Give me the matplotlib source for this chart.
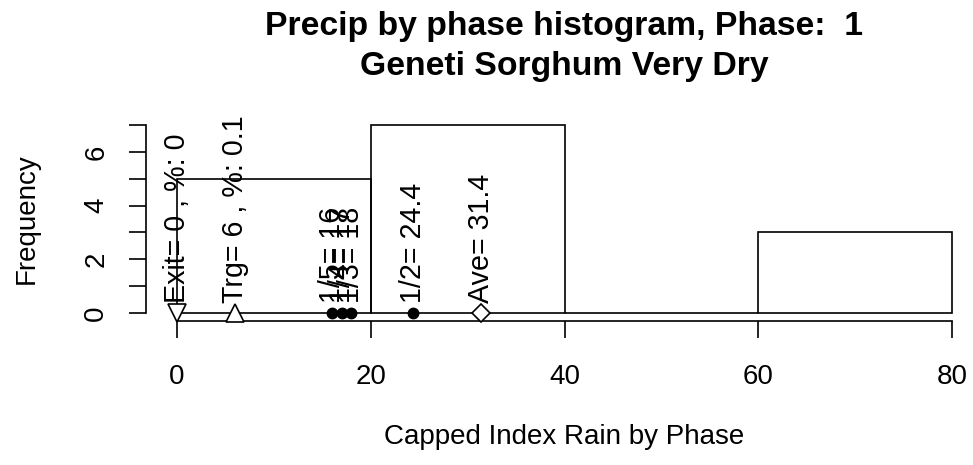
import matplotlib
matplotlib.use("Agg")
import matplotlib.pyplot as plt

plt.rcParams['font.family'] = ['Liberation Sans', 'DejaVu Sans']

# Histogram data
bin_edges = [0, 20, 40, 60, 80]
counts = [5, 7, 0, 3]

# Marker annotations
exit_x, exit_label = 0, "Exit= 0 , %: 0"
trg_x, trg_label = 6, "Trg= 6 , %: 0.1"
quant_x = [16, 17, 18, 24.4]
quant_labels = ["1/5= 16", "1/4= 17", "1/3= 18", "1/2= 24.4"]
ave_x, ave_label = 31.4, "Ave= 31.4"

yticks = [0, 1, 2, 3, 4, 5, 6, 7]
ytick_labels = ["0", "", "2", "", "4", "", "6", ""]
xticks = [0, 20, 40, 60, 80]

title1 = "Precip by phase histogram, Phase:  1"
title2 = "Geneti Sorghum Very Dry"
xlabel = "Capped Index Rain by Phase"
ylabel = "Frequency"

W, H = 973, 465
fig = plt.figure(figsize=(W / 100, H / 100), dpi=100)
ax = fig.add_axes([146 / W, (H - 320.5) / H, 837 / W, 203 / H])
ax.set_xlim(-3.2, 83.2)
ax.set_ylim(-0.28, 7.28)

fs = 20
tfs = 20.6
lw = 1.2

widths = [bin_edges[i + 1] - bin_edges[i] for i in range(len(counts))]
ax.bar(bin_edges[:-1], counts, width=widths, align='edge', fill=False,
       edgecolor='black', linewidth=lw, clip_on=False)

ms_tri = 13
ax.plot([exit_x], [0], marker='v', ms=ms_tri, mfc='white', mec='black', mew=lw, ls='none', clip_on=False, zorder=3)
ax.plot([trg_x], [0], marker='^', ms=ms_tri, mfc='white', mec='black', mew=lw, ls='none', clip_on=False, zorder=3)
ax.plot(quant_x, [0] * len(quant_x), marker='o', ms=7.5, mfc='black', mec='black', ls='none', clip_on=False, zorder=3)
ax.plot([ave_x], [0], marker='D', ms=9, mfc='white', mec='black', mew=lw, ls='none', clip_on=False, zorder=3)

ty = 0.37
for x, lab in [(exit_x, exit_label), (trg_x, trg_label)] + list(zip(quant_x, quant_labels)) + [(ave_x, ave_label)]:
    ax.text(x, ty, lab, rotation=90, ha='center', va='bottom', fontsize=tfs, zorder=4)

for s in ['top', 'right']:
    ax.spines[s].set_visible(False)
ax.spines['left'].set_bounds(0, 7)
ax.spines['bottom'].set_bounds(0, 80)
ax.spines['left'].set_linewidth(lw)
ax.spines['bottom'].set_linewidth(lw)

ax.set_xticks(xticks)
ax.set_xticklabels([str(v) for v in xticks], fontsize=fs)
ax.set_yticks(yticks)
ax.set_yticklabels(ytick_labels, fontsize=fs, rotation=90, va='center')
ax.tick_params(axis='both', length=12.5, width=lw, direction='out')
ax.tick_params(axis='x', pad=19)
ax.tick_params(axis='y', pad=14)

cx = 564.5 / W
fig.text(cx, 1 - 27 / H, title1, ha='center', va='center', fontsize=24.3, fontweight='bold')
fig.text(cx, 1 - 67 / H, title2, ha='center', va='center', fontsize=24.3, fontweight='bold')
fig.text(cx, 1 - 437 / H, xlabel, ha='center', va='center', fontsize=fs)
fig.text(27 / W, 1 - 219 / H, ylabel, ha='center', va='center', fontsize=fs, rotation=90)

fig.savefig("out.png", dpi=100)
